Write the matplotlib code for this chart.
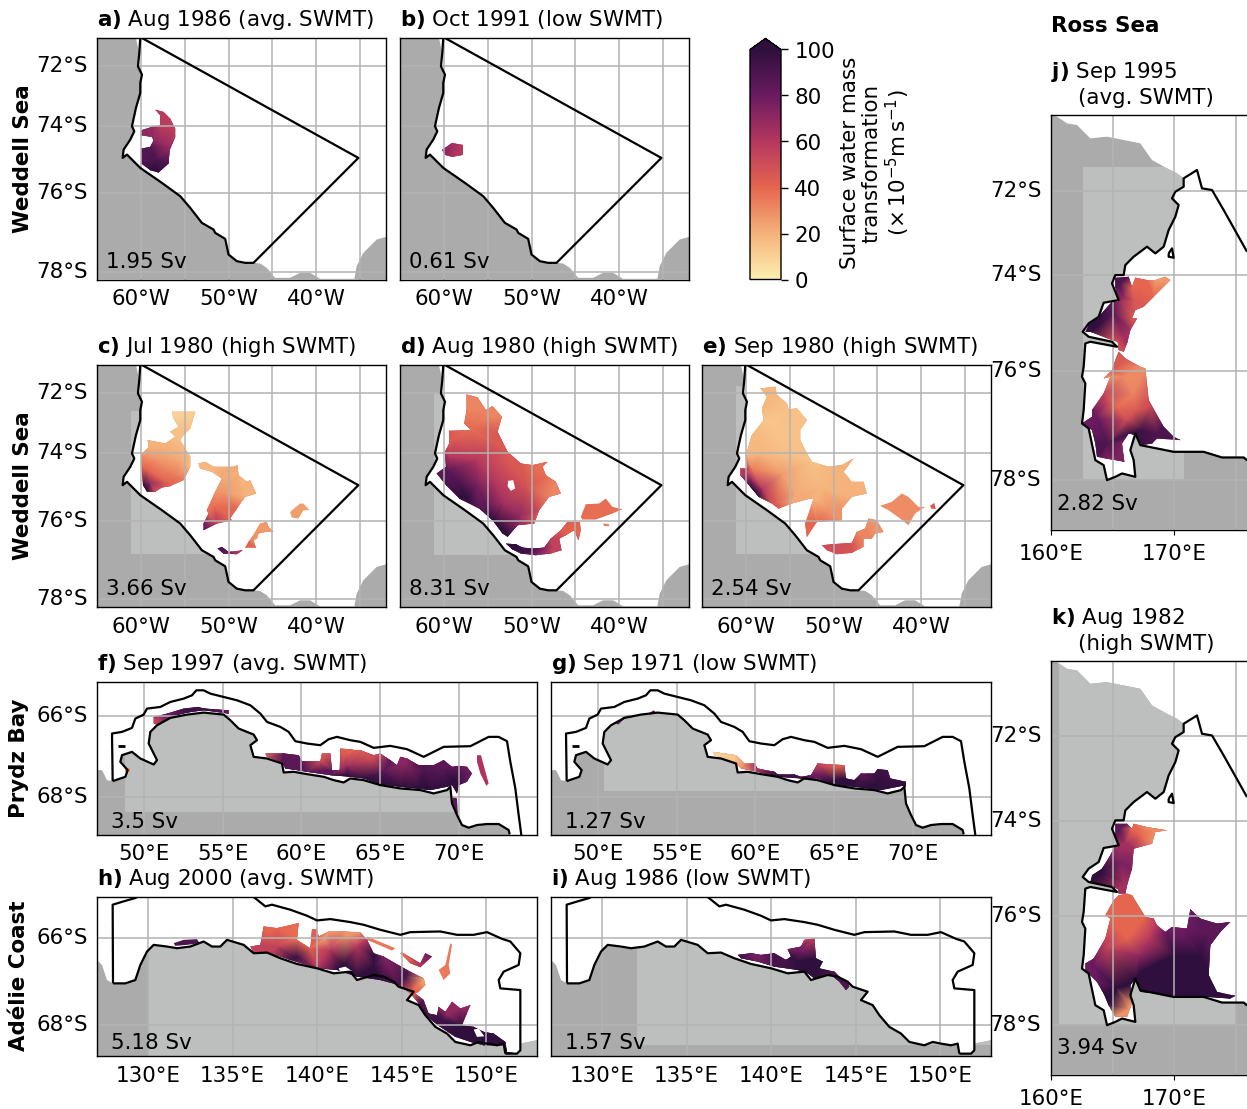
import numpy as np
import matplotlib
matplotlib.use('Agg')
import matplotlib.pyplot as plt
from matplotlib.colors import LinearSegmentedColormap, Normalize
from matplotlib.cm import ScalarMappable
from matplotlib.patches import Polygon
from matplotlib.transforms import ScaledTranslation
from matplotlib.tri import Triangulation

W, H = 1247, 1109
FS = 15.4
plt.rcParams['font.size'] = FS
plt.rcParams['mathtext.default'] = 'regular'

LAND = '#ababab'
SHELF = '#bcbfbe'
GRID = '#b3b3b3'

cmap = LinearSegmentedColormap.from_list('swmt', [
    (0.0, '#fdeeb0'), (0.2, '#f5b27a'), (0.4, '#e5654f'),
    (0.6, '#b5375f'), (0.8, '#6a1b60'), (1.0, '#2f0f3d')])
norm = Normalize(0, 100)

# Outlines are in projected map units (one map per region)

# ---- Weddell Sea ----
wed_coast = [(150, 15), (147, 60), (143, 100), (155, 125), (150, 150), (150, 180), (137, 225), (125, 280),
             (132, 295), (120, 320), (100, 350), (97, 375), (110, 365), (150, 405), (215, 450), (270, 490),
             (300, 525), (335, 570), (370, 590), (375, 600), (405, 618), (415, 665), (440, 685), (465, 690),
             (490, 690)]
wed_open = [(805, 375), (155, 15)]
wed_land_left = [(20, 15), (137, 15)] + wed_coast[1:] + [(510, 692), (530, 705), (555, 735), (600, 735),
                                                           (630, 720), (660, 720), (690, 738), (793, 738),
                                                           (800, 700), (820, 660), (860, 620), (888, 612),
                                                           (888, 740), (20, 740)]
wed_x_ticks = [152, 415, 678]
wed_x_labels = ['60°W', '50°W', '40°W']
wed_x_grid = [283, 546, 809]
wed_y_ticks = [98, 279, 481, 717]
wed_y_labels = ['72°S', '74°S', '76°S', '78°S']

a_blob = [(195, 230), (220, 237), (240, 257), (255, 287), (255, 312), (238, 352), (235, 392), (205, 419),
          (180, 412), (153, 392), (153, 347), (180, 342), (190, 322), (185, 312), (153, 307), (153, 292),
          (185, 282), (210, 277), (210, 247)]
a_field = [(200, 235, 58), (250, 295, 58), (165, 300, 70), (220, 340, 70), (170, 360, 88), (200, 380, 90),
           (190, 410, 100), (240, 350, 70)]
b_blob = [(146, 351), (176, 330), (209, 336), (209, 366), (176, 372), (155, 366)]
b_field = [(146, 351, 72), (176, 345, 66), (209, 350, 58), (180, 370, 62)]

c_blob1 = [(245, 155), (315, 155), (300, 205), (280, 225), (270, 240), (300, 290), (300, 320), (280, 360),
           (240, 378), (215, 382), (195, 395), (170, 395), (158, 375), (153, 320), (153, 282), (175, 262),
           (172, 240), (225, 250), (255, 230), (240, 215), (265, 200), (250, 175)]
c_field1 = [(280, 165, 10), (270, 220, 15), (220, 260, 20), (200, 300, 28), (270, 300, 22), (170, 330, 40),
            (260, 350, 35), (180, 370, 70), (170, 390, 100), (200, 385, 50), (230, 370, 42), (300, 300, 18)]
c_blob2 = [(325, 310), (345, 305), (370, 320), (430, 320), (442, 315), (445, 345), (470, 365), (480, 360),
           (498, 400), (465, 410), (440, 445), (420, 475), (425, 480), (380, 490), (340, 510), (340, 490),
           (355, 460), (350, 450), (375, 395), (395, 355), (365, 335), (330, 325)]
c_field2 = [(340, 315, 18), (400, 335, 22), (460, 385, 20), (400, 400, 28), (370, 440, 38), (380, 470, 55),
            (350, 500, 80), (420, 470, 40)]
c_blob3 = [(475, 545), (490, 525), (510, 490), (530, 485), (535, 500), (550, 515), (525, 515), (505, 520),
           (500, 535), (490, 540), (497, 562), (465, 562)]
c_field3 = [(510, 500, 26), (490, 530, 28), (480, 555, 42), (535, 510, 26)]
c_blob4 = [(600, 455), (630, 430), (640, 430), (658, 450), (640, 450), (625, 475), (605, 472)]
c_blob5 = [(382, 565), (395, 560), (415, 575), (458, 570), (440, 582), (400, 580)]
c_field5 = [(385, 565, 92), (410, 575, 85), (430, 578, 65), (455, 572, 55)]

d_blob1 = [(220, 103), (253, 112), (278, 150), (298, 138), (326, 170), (313, 215), (343, 275), (383, 310),
           (418, 315), (463, 305), (448, 320), (458, 345), (488, 365), (503, 400), (468, 410), (438, 450),
           (423, 490), (373, 495), (343, 530), (328, 520), (298, 480), (258, 445), (198, 415), (158, 375),
           (130, 340), (158, 320), (155, 275), (168, 250), (168, 212), (233, 210), (213, 190), (220, 150)]
d_field1 = [(230, 120, 32), (290, 170, 32), (240, 200, 38), (180, 240, 45), (300, 250, 45), (170, 290, 60),
            (350, 310, 45), (440, 340, 38), (490, 395, 32), (250, 300, 60), (400, 380, 48), (160, 330, 85),
            (200, 370, 90), (220, 410, 100), (280, 440, 85), (330, 430, 65), (310, 490, 100), (345, 520, 100),
            (380, 470, 70), (420, 470, 50), (250, 370, 75), (300, 360, 60)]
d_hole = [(345, 362), (360, 360), (366, 385), (353, 392), (343, 378)]
d_blob2 = [(338, 550), (368, 552), (388, 562), (418, 565), (453, 562), (473, 535), (503, 510), (523, 485),
           (560, 485), (563, 510), (556, 540), (543, 510), (518, 525), (498, 535), (505, 570), (473, 580),
           (428, 585), (383, 580), (358, 568)]
d_field2 = [(345, 555, 100), (400, 575, 95), (440, 575, 75), (480, 560, 55), (520, 505, 42), (550, 500, 40)]
d_blob3 = [(578, 432), (618, 430), (638, 415), (658, 440), (688, 447), (658, 460), (608, 478), (568, 478),
           (563, 470)]
d_blob4 = [(630, 490), (648, 492), (648, 498), (633, 497)]

e_blob1 = [(195, 85), (240, 80), (245, 105), (275, 130), (280, 148), (305, 145), (335, 180), (315, 210),
           (315, 240), (335, 280), (350, 305), (400, 320), (440, 315), (475, 295), (445, 335), (470, 365),
           (505, 365), (515, 400), (470, 410), (440, 445), (440, 480), (365, 485), (335, 530), (330, 490),
           (355, 415), (345, 415), (290, 430), (250, 445), (230, 430), (190, 410), (165, 380), (135, 345),
           (135, 325), (155, 325), (152, 285), (170, 225), (205, 180), (200, 145), (215, 110)]
e_field1 = [(220, 90, 18), (290, 170, 15), (240, 200, 14), (200, 280, 18), (300, 290, 15), (380, 380, 18),
            (480, 380, 20), (400, 450, 28), (350, 500, 40), (170, 330, 35), (150, 335, 60), (165, 355, 70),
            (180, 395, 100), (200, 385, 60), (240, 430, 45), (300, 400, 22), (260, 340, 25)]
e_blob2 = [(380, 555), (410, 552), (470, 548), (485, 515), (510, 505), (520, 475), (545, 480), (565, 515),
           (540, 520), (530, 535), (505, 535), (505, 560), (470, 578), (425, 582), (395, 570)]
e_field2 = [(400, 560, 50), (450, 570, 48), (500, 530, 32), (540, 500, 28)]
e_blob3 = [(555, 437), (590, 425), (620, 400), (640, 410), (670, 440), (690, 440), (660, 460), (640, 495),
           (615, 475), (580, 450)]
e_blob4 = [(705, 437), (718, 428), (722, 447), (708, 445)]

# ---- Prydz Bay ----
pry_line = [(67, 318), (65, 175), (95, 170), (125, 158), (135, 130), (160, 118), (170, 100), (210, 95),
            (240, 80), (280, 70), (305, 60), (318, 45), (340, 45), (360, 55), (400, 65), (440, 75), (480, 90),
            (510, 115), (530, 140), (570, 155), (595, 170), (615, 198), (650, 205), (690, 210), (715, 192),
            (740, 185), (780, 195), (810, 200), (850, 218), (900, 212), (950, 222), (1000, 245), (1060, 215),
            (1140, 213), (1195, 185), (1225, 185), (1250, 198), (1260, 260), (1275, 340), (1285, 420),
            (1293, 480)]
pry_coast = [(1258, 478), (1255, 465), (1225, 447), (1190, 447), (1160, 450), (1135, 458), (1115, 450),
             (1100, 420), (1085, 385), (1080, 335), (1070, 345), (1030, 355), (990, 345), (930, 340),
             (870, 330), (820, 315), (780, 310), (760, 322), (730, 315), (700, 305), (650, 297), (610, 290),
             (580, 292), (575, 265), (530, 250), (490, 245), (480, 210), (500, 195), (490, 178), (445, 160),
             (420, 135), (400, 118), (340, 112), (290, 118), (240, 128), (200, 150), (180, 170), (175, 205),
             (200, 255), (190, 268), (150, 250), (125, 230), (95, 240), (90, 260), (112, 285), (105, 305),
             (67, 318)]
pry_land = pry_coast + [(50, 315), (35, 285), (20, 285), (20, 480), (1258, 480)]
pry_dash = [(82, 212), (105, 212)]
pry_x_ticks = [161, 398, 633, 869, 1105]
pry_x_labels = ['50°E', '55°E', '60°E', '65°E', '70°E']
pry_y_ticks = [123, 365]
pry_y_labels = ['66°S', '68°S']

f_blob1 = [(525, 235), (580, 235), (625, 240), (635, 258), (690, 258), (695, 235), (720, 235), (725, 285),
           (748, 285), (750, 220), (780, 222), (795, 225), (810, 225), (850, 240), (870, 235), (900, 255),
           (920, 270), (930, 245), (950, 250), (985, 270), (1030, 270), (1060, 255), (1085, 275), (1105, 272),
           (1130, 275), (1145, 295), (1130, 320), (1105, 330), (1100, 355), (1085, 330), (1070, 335),
           (1020, 345), (980, 340), (930, 335), (870, 328), (820, 310), (780, 305), (720, 300), (650, 290),
           (620, 285), (585, 280), (575, 262), (530, 245)]
f_field1 = [(530, 240, 45), (590, 250, 85), (640, 275, 85), (700, 245, 48), (700, 285, 85), (770, 235, 42),
            (770, 275, 68), (770, 300, 100), (850, 255, 52), (880, 290, 85), (880, 322, 100), (950, 270, 72),
            (1000, 290, 90), (1000, 330, 100), (1060, 280, 85), (1090, 310, 100), (1130, 295, 82)]
f_blob2 = [(1160, 240), (1172, 240), (1180, 270), (1195, 325), (1188, 332), (1170, 295), (1160, 260)]
f_blob3 = [(1088, 365), (1100, 370), (1103, 420), (1095, 405), (1085, 385)]
f_blob4 = [(190, 125), (230, 115), (280, 100), (320, 95), (345, 100), (415, 105), (415, 115), (340, 105),
           (290, 112), (240, 125), (205, 150), (190, 145)]
f_field4 = [(190, 135, 55), (230, 120, 80), (300, 105, 95), (410, 110, 85)]
f_blob5 = [(105, 280), (118, 280), (118, 290), (105, 290)]

g_blob1 = [(505, 230), (575, 240), (600, 265), (630, 265), (640, 280), (690, 290), (700, 298), (750, 298),
           (770, 305), (800, 300), (820, 265), (900, 270), (905, 310), (930, 315), (950, 295), (990, 295),
           (1000, 282), (1030, 285), (1038, 310), (1085, 320), (1085, 335), (1075, 332), (1010, 345),
           (930, 335), (870, 330), (820, 310), (770, 310), (700, 305), (640, 290), (590, 280), (570, 260),
           (510, 240)]
g_field1 = [(510, 235, 8), (570, 245, 14), (600, 270, 28), (650, 280, 65), (720, 300, 95), (830, 275, 55),
            (880, 275, 42), (830, 300, 80), (860, 315, 100), (900, 320, 100), (960, 300, 85), (1020, 295, 95),
            (1000, 325, 100), (1080, 328, 100)]
g_blob2 = [(215, 145), (240, 122), (258, 118), (240, 130), (222, 148)]
g_blob3 = [(312, 115), (328, 105), (335, 112), (318, 118)]

# ---- Adelie Coast ----
ade_line1 = [(68, 280), (67, 45), (100, 35), (135, 25), (140, 22)]
ade_line2 = [(490, 22), (525, 50), (545, 45), (600, 60), (650, 78), (680, 92), (720, 88), (780, 97), (820, 105),
             (870, 120), (930, 135), (960, 127), (1050, 125), (1100, 135), (1150, 135), (1190, 127), (1235, 147),
             (1260, 155), (1290, 190), (1285, 225), (1240, 245), (1225, 270), (1230, 295), (1290, 300),
             (1290, 480), (1280, 490), (1245, 490)]
ade_coast = [(1245, 490), (1240, 460), (1220, 465), (1190, 460), (1165, 455), (1140, 465), (1095, 455),
             (1070, 430), (1035, 410), (1005, 375), (985, 345), (950, 330), (970, 305), (925, 290), (910, 275),
             (880, 260), (850, 255), (800, 270), (780, 245), (730, 250), (680, 235), (620, 222), (570, 205),
             (530, 188), (490, 190), (460, 165), (410, 150), (390, 170), (365, 170), (340, 155), (300, 170),
             (260, 175), (230, 170), (190, 165), (170, 185), (150, 225), (135, 270), (105, 280), (68, 280)]
ade_land = ade_coast + [(50, 270), (35, 225), (20, 210), (20, 497), (1340, 497), (1340, 450), (1290, 460),
                        (1290, 480), (1280, 490)]
ade_x_ticks = [174, 427, 681, 935, 1188]
ade_x_labels = ['130°E', '135°E', '140°E', '145°E', '150°E']
ade_y_ticks = [143, 404]
ade_y_labels = ['66°S', '68°S']

h_blob1 = [(480, 170), (510, 165), (520, 110), (560, 115), (625, 100), (620, 150), (660, 175), (665, 118),
           (680, 120), (685, 140), (715, 125), (760, 125), (810, 128), (830, 150), (850, 190), (880, 200),
           (950, 240), (1000, 265), (1005, 285), (985, 305), (975, 310), (1000, 330), (1015, 370), (1040, 375),
           (1045, 350), (1065, 365), (1085, 335), (1110, 355), (1140, 345), (1115, 405), (1150, 410),
           (1180, 425), (1210, 430), (1245, 455), (1250, 485), (1285, 490), (1250, 490), (1240, 465),
           (1180, 465), (1140, 455), (1095, 440), (1050, 410), (1030, 395), (1000, 370), (985, 340), (960, 310),
           (925, 285), (870, 270), (800, 260), (740, 240), (680, 235), (600, 210), (540, 190), (490, 190)]
h_field1 = [(490, 175, 55), (530, 130, 40), (610, 115, 38), (560, 170, 55), (620, 200, 95), (670, 140, 42),
            (700, 150, 25), (770, 140, 28), (720, 180, 60), (800, 170, 60), (760, 220, 100), (850, 230, 100),
            (890, 220, 75), (950, 260, 90), (995, 275, 25), (970, 295, 40), (1000, 350, 90), (1060, 390, 95),
            (1070, 375, 70), (1120, 360, 70), (1130, 430, 100), (1230, 460, 100)]
h_blob2 = [(250, 160), (280, 150), (320, 148), (328, 160), (290, 165), (255, 168)]
h_blob3 = [(830, 140), (915, 175), (905, 182), (830, 150)]
h_blob4 = [(935, 187), (990, 220), (1005, 190), (1025, 200), (990, 232), (960, 220), (930, 190)]
h_field4 = [(935, 188, 38), (985, 225, 62), (1020, 198, 78), (965, 215, 48)]
h_blob5 = [(1080, 160), (1085, 165), (1075, 225), (1080, 250), (1060, 270), (1045, 240), (1065, 225)]
h_hole1 = [(745, 235), (765, 230), (785, 243), (750, 247)]
h_hole2 = [(1150, 418), (1165, 415), (1182, 438), (1160, 440)]

i_blob1 = [(580, 195), (620, 190), (650, 195), (690, 190), (725, 210), (740, 200), (730, 178), (770, 170),
           (780, 150), (810, 145), (815, 205), (835, 215), (825, 235), (870, 245), (890, 265), (910, 275),
           (915, 290), (905, 300), (885, 275), (860, 255), (810, 265), (790, 250), (760, 240), (690, 230),
           (640, 215), (590, 205)]
i_field1 = [(800, 150, 58), (770, 185, 78), (650, 197, 78), (690, 205, 92), (760, 215, 100), (820, 225, 100),
            (880, 270, 90), (590, 200, 95)]

# ---- Ross Sea ----
ros_land_top = [(32, 15), (50, 20), (80, 40), (110, 45), (150, 85), (200, 80), (250, 90), (300, 100), (335, 150),
                (380, 175), (410, 190), (430, 205)]
ros_line = [(620, 425), (550, 300), (515, 240), (485, 235), (470, 180), (430, 205), (430, 230), (405, 245),
            (395, 265), (415, 285), (405, 320), (385, 360), (370, 410), (345, 430), (320, 410), (280, 440),
            (255, 465), (250, 495), (225, 495), (215, 520), (235, 570), (190, 578), (175, 620), (145, 640),
            (127, 665), (145, 680), (215, 695), (230, 710), (150, 695), (135, 700), (130, 770), (125, 800),
            (135, 820), (130, 900), (125, 940), (145, 955), (165, 1050), (190, 1065), (200, 1110), (225, 1100),
            (245, 1090), (285, 1100), (280, 1050), (270, 1020), (285, 970), (300, 1005), (350, 1015), (400, 1025),
            (490, 1025), (545, 1042), (610, 1042), (620, 1050), (700, 1052)]
ros_land = ros_land_top + ros_line[6:] + [(700, 1258), (32, 1258)]
ros_island = [(385, 430), (395, 415), (400, 443), (385, 440), (385, 430)]
ros_x_ticks = [32, 401]
ros_x_labels = ['160°E', '170°E']
ros_x_grid = [217, 586]
ros_y_ticks = [242, 496, 782, 1110]
ros_y_labels = ['72°S', '74°S', '76°S', '78°S']

j_blob1 = [(225, 503), (265, 500), (275, 530), (285, 503), (320, 510), (345, 510), (375, 500), (390, 510),
           (340, 560), (310, 590), (285, 600), (275, 625), (290, 625), (270, 660), (260, 700), (250, 725),
           (235, 720), (232, 695), (215, 690), (150, 665), (135, 665), (145, 645), (175, 620), (215, 575),
           (235, 575), (225, 530)]
j_field1 = [(380, 505, 25), (300, 530, 40), (280, 570, 45), (250, 560, 70), (240, 520, 90), (220, 610, 85),
            (170, 650, 100), (250, 680, 65), (240, 710, 50)]
j_blob2 = [(235, 725), (255, 745), (300, 770), (315, 775), (325, 870), (370, 950), (400, 980), (420, 990),
           (350, 985), (335, 1000), (305, 1005), (285, 975), (265, 970), (245, 1000), (252, 1055), (225, 1050),
           (195, 1045), (170, 1040), (165, 1000), (155, 960), (125, 940), (155, 920), (155, 900), (190, 850),
           (210, 800), (190, 805), (215, 780), (225, 750)]
j_field2 = [(250, 800, 30), (280, 850, 32), (230, 890, 38), (290, 900, 45), (200, 880, 55), (170, 920, 80),
            (200, 1000, 90), (230, 1040, 75), (260, 930, 50), (300, 960, 95), (350, 970, 90), (330, 890, 50),
            (240, 760, 45)]

k_blob1 = [(225, 505), (260, 505), (275, 520), (280, 505), (320, 515), (380, 525), (345, 530), (335, 565),
           (280, 580), (275, 640), (260, 690), (255, 715), (235, 715), (232, 700), (150, 680), (155, 660),
           (185, 640), (210, 600), (225, 570), (235, 575), (225, 540)]
k_field1 = [(340, 525, 30), (300, 540, 40), (255, 560, 65), (240, 520, 85), (240, 620, 75), (180, 660, 100),
            (250, 680, 65)]
k_blob2 = [(235, 720), (260, 715), (275, 720), (315, 785), (340, 790), (350, 810), (375, 830), (395, 815),
           (440, 820), (450, 762), (480, 790), (530, 805), (570, 800), (540, 830), (510, 870), (505, 960),
           (530, 1010), (585, 1022), (570, 1030), (500, 1025), (400, 1025), (350, 1015), (300, 1010), (285, 970),
           (270, 990), (275, 1045), (260, 1085), (225, 1085), (205, 1050), (190, 1015), (170, 980), (135, 945),
           (135, 925), (160, 910), (195, 850), (210, 790), (195, 780), (220, 735)]
k_field2 = [(260, 780, 40), (260, 850, 40), (230, 820, 40), (200, 880, 55), (330, 850, 60), (300, 900, 70),
            (420, 840, 80), (500, 830, 85), (400, 900, 100), (480, 900, 100), (300, 950, 100), (230, 1000, 100),
            (160, 930, 80), (265, 1060, 28), (550, 1020, 100)]

sv_a, sv_b, sv_c, sv_d, sv_e = '1.95 Sv', '0.61 Sv', '3.66 Sv', '8.31 Sv', '2.54 Sv'
sv_f, sv_g, sv_h, sv_i, sv_j, sv_k = '3.5 Sv', '1.27 Sv', '5.18 Sv', '1.57 Sv', '2.82 Sv', '3.94 Sv'
cbar_ticks = [0, 20, 40, 60, 80, 100]


fig = plt.figure(figsize=(W / 100, H / 100), dpi=100)


def add_map(left, top, right, bottom, xlim, ylim):
    ax = fig.add_axes([left / W, 1 - bottom / H, (right - left) / W, (bottom - top) / H])
    ax.set_xlim(*xlim)
    ax.set_ylim(*ylim)
    ax.set_axisbelow(False)
    for s in ax.spines.values():
        s.set_linewidth(1.0)
        s.set_zorder(6)
    return ax


def paint(ax, outline, field):
    # scalar field -> flat colour, list of (x, y, v) -> smooth shading clipped to outline
    if np.isscalar(field):
        ax.add_patch(Polygon(outline, fc=cmap(norm(field)), ec='none', zorder=2))
        return
    pts = np.array(field, dtype=float)
    clip = Polygon(outline, fc=cmap(norm(pts[:, 2].mean())), ec='none', zorder=2)
    ax.add_patch(clip)
    edge = np.array(outline, dtype=float)
    d = ((edge[:, None, :] - pts[None, :, :2]) ** 2).sum(axis=2)
    x = np.r_[pts[:, 0], edge[:, 0]]
    y = np.r_[pts[:, 1], edge[:, 1]]
    v = np.r_[pts[:, 2], pts[d.argmin(axis=1), 2]]
    tpc = ax.tripcolor(Triangulation(x, y), v, shading='gouraud', cmap=cmap, norm=norm, zorder=2.1)
    tpc.set_clip_path(clip)


def base(ax, land, shelf=None):
    lp = Polygon(land, fc=LAND, ec='none', zorder=1)
    ax.add_patch(lp)
    if shelf is not None:
        x0, x1, y0, y1 = shelf
        r = Polygon([(x0, y0), (x1, y0), (x1, y1), (x0, y1)], fc=SHELF, ec='none', zorder=1.1)
        ax.add_patch(r)
        r.set_clip_path(lp)


def ticks(ax, xt, xl, yt, yl, xgrid=(), xlen=0, pad_x=7, pad_y=6.5, show_y=True, y_up=2):
    ax.set_xticks(xt, xl)
    ax.set_yticks(yt, yl)
    ax.set_xticks(list(xgrid), minor=True)
    ax.tick_params(axis='x', which='major', length=xlen, pad=pad_x)
    ax.tick_params(axis='y', which='major', length=0, pad=pad_y, labelleft=show_y)
    ax.tick_params(axis='both', which='minor', length=0)
    ax.grid(True, which='both', color=GRID, lw=1.1)
    # labels sit a little above their grid lines
    up = ScaledTranslation(0, y_up / 100, fig.dpi_scale_trans)
    for lab in ax.get_yticklabels():
        lab.set_transform(lab.get_transform() + up)


def outline_line(ax, pts, lw=1.6):
    p = np.array(pts)
    ax.plot(p[:, 0], p[:, 1], color='k', lw=lw, zorder=4, solid_capstyle='butt')


def title(ax, letter, text):
    ax.set_title(r'$\mathbf{%s)}$ %s' % (letter, text), loc='left', pad=8.6, fontsize=FS)


def sv(ax, text, dx, dy):
    ax.annotate(text, xy=(0, 0), xycoords='axes fraction', xytext=(dx * 0.72, dy * 0.72),
                textcoords='offset points', ha='left', va='baseline', fontsize=FS, zorder=7)


# Weddell panels
wed_xlim, wed_ylim = (20, 888), (740, 15)
wed_top = 38, 279.5
wed_mid = 365, 607
panels = [
    ('a', 'Aug 1986 (avg. SWMT)', 97, 386, wed_top, None, sv_a),
    ('b', 'Oct 1991 (low SWMT)', 400, 689, wed_top, None, sv_b),
    ('c', 'Jul 1980 (high SWMT)', 97, 386, wed_mid, (122, 888, 152, 582), sv_c),
    ('d', 'Aug 1980 (high SWMT)', 400, 689, wed_mid, (122, 888, 100, 585), sv_d),
    ('e', 'Sep 1980 (high SWMT)', 702, 991, wed_mid, (122, 888, 78, 582), sv_e),
]
blobs = {
    'a': [(a_blob, a_field)],
    'b': [(b_blob, b_field)],
    'c': [(c_blob1, c_field1), (c_blob2, c_field2), (c_blob3, c_field3), (c_blob4, 25), (c_blob5, c_field5)],
    'd': [(d_blob1, d_field1), (d_blob2, d_field2), (d_blob3, 38), (d_blob4, 35)],
    'e': [(e_blob1, e_field1), (e_blob2, e_field2), (e_blob3, 30), (e_blob4, 45)],
}
for letter, text, x0, x1, (y0, y1), shelf, flux in panels:
    ax = add_map(x0, y0, x1, y1, wed_xlim, wed_ylim)
    base(ax, wed_land_left, shelf)
    for outline, field in blobs[letter]:
        paint(ax, outline, field)
    if letter == 'd':
        ax.add_patch(Polygon(d_hole, fc='white', ec='none', zorder=2.2))
    ticks(ax, wed_x_ticks, wed_x_labels, wed_y_ticks, wed_y_labels, wed_x_grid, show_y=letter in 'ac')
    outline_line(ax, wed_coast + wed_open)
    title(ax, letter, text)
    sv(ax, flux, 9, 12)
    if letter in 'ac':
        fig.text(23 / W, 1 - (y0 + y1) / 2 / H, 'Weddell Sea', rotation=90, fontweight='bold',
                 ha='center', va='center', fontsize=FS)

# Prydz panels
for letter, text, x0, x1, shelf, flux, items in [
    ('f', 'Sep 1997 (avg. SWMT)', 97, 537, (105, 1340, 20, 412), sv_f,
     [(f_blob1, f_field1), (f_blob2, 62), (f_blob3, 85), (f_blob4, f_field4), (f_blob5, 30)]),
    ('g', 'Sep 1971 (low SWMT)', 551, 991, (178, 1340, 20, 348), sv_g,
     [(g_blob1, g_field1), (g_blob2, 85), (g_blob3, 85)]),
]:
    ax = add_map(x0, 682, x1, 835, (20, 1340), (480, 20))
    base(ax, pry_land, shelf)
    for outline, field in items:
        paint(ax, outline, field)
    ticks(ax, pry_x_ticks, pry_x_labels, pry_y_ticks, pry_y_labels, show_y=letter == 'f', pad_x=6.2)
    outline_line(ax, pry_line)
    outline_line(ax, pry_coast)
    outline_line(ax, pry_dash, lw=2)
    title(ax, letter, text)
    sv(ax, flux, 14, 7)
    if letter == 'f':
        fig.text(19 / W, 1 - 758 / H, 'Prydz Bay', rotation=90, fontweight='bold',
                 ha='center', va='center', fontsize=FS)

# Adelie panels
for letter, text, x0, x1, shelf, flux, items in [
    ('h', 'Aug 2000 (avg. SWMT)', 97, 537, (175, 1340, 22, 497), sv_h,
     [(h_blob1, h_field1), (h_blob2, 90), (h_blob3, 35), (h_blob4, h_field4), (h_blob5, 35)]),
    ('i', 'Aug 1986 (low SWMT)', 551, 991, (278, 1340, 22, 465), sv_i,
     [(i_blob1, i_field1)]),
]:
    ax = add_map(x0, 897, x1, 1056, (20, 1340), (497, 22))
    base(ax, ade_land, shelf)
    for outline, field in items:
        paint(ax, outline, field)
    if letter == 'h':
        ax.add_patch(Polygon(h_hole1, fc='white', ec='none', zorder=2.2))
        ax.add_patch(Polygon(h_hole2, fc='white', ec='none', zorder=2.2))
    ticks(ax, ade_x_ticks, ade_x_labels, ade_y_ticks, ade_y_labels, show_y=letter == 'h')
    outline_line(ax, ade_line1)
    outline_line(ax, ade_line2)
    outline_line(ax, ade_coast)
    title(ax, letter, text)
    sv(ax, flux, 14, 7)
    if letter == 'h':
        fig.text(19 / W, 1 - 976 / H, 'Adélie Coast', rotation=90, fontweight='bold',
                 ha='center', va='center', fontsize=FS)

# Ross panels (run off the right edge of the figure)
for letter, line1, line2, y0, y1, shelf, flux, items in [
    ('j', 'Sep 1995', '(avg. SWMT)', 115, 529.5, (127, 430, 172, 1108), sv_j, [(j_blob1, j_field1), (j_blob2, j_field2)]),
    ('k', 'Aug 1982', '(high SWMT)', 660.5, 1074.5, (57, 585, 15, 1105), sv_k, [(k_blob1, k_field1), (k_blob2, k_field2)]),
]:
    ax = add_map(1051, y0, 1051 + 640 / 3, y1, (32, 672), (1258, 15))
    base(ax, ros_land, shelf)
    for outline, field in items:
        paint(ax, outline, field)
    ticks(ax, ros_x_ticks, ros_x_labels, ros_y_ticks, ros_y_labels, ros_x_grid, xlen=5 * 0.72, pad_x=6.5, pad_y=7)
    outline_line(ax, ros_line)
    outline_line(ax, ros_island)
    fig.text(1051 / W, 1 - (y0 - 37) / H, r'$\mathbf{%s)}$ %s' % (letter, line1), fontsize=FS, va='baseline')
    fig.text(1078 / W, 1 - (y0 - 11) / H, line2, fontsize=FS, va='baseline')
    sv(ax, flux, 6, 20)

fig.text(1051 / W, 1 - 32 / H, 'Ross Sea', fontweight='bold', fontsize=FS, va='baseline')

# Colourbar (the axes include the arrow on top)
cax = fig.add_axes([750 / W, 1 - 279.5 / H, 31 / W, 241 / H])
cmap.set_over(cmap(1.0))
cb = fig.colorbar(ScalarMappable(norm=norm, cmap=cmap), cax=cax, extend='max', extendfrac=11 / 230, ticks=cbar_ticks)
cb.ax.tick_params(labelsize=FS, length=5, width=1, pad=4.5)
cb.outline.set_linewidth(1.0)
fig.text(876 / W, 1 - 163 / H, 'Surface water mass\ntransformation\n' + r'($\times\,10^{-5}$m$\,$s$^{-1}$)',
         rotation=90, ha='center', va='center', multialignment='center', fontsize=FS, linespacing=1.08)

fig.savefig('out.png', dpi=100)
